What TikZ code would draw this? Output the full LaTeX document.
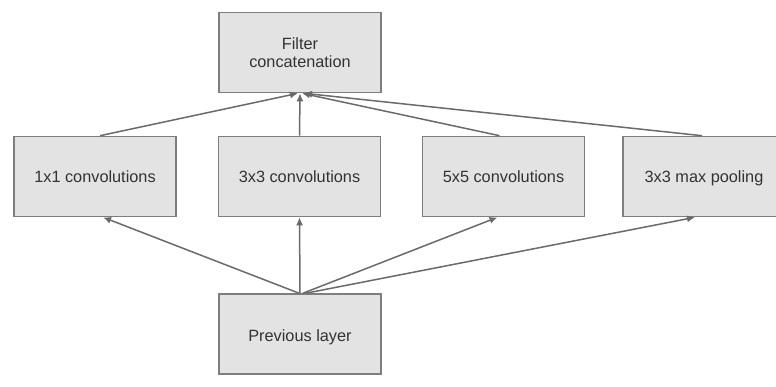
\documentclass[tikz,border=0pt]{standalone}
\usepackage{fontspec}
\setmainfont{Liberation Sans}
\usetikzlibrary{arrows.meta}
\definecolor{boxfill}{HTML}{E3E3E3}
\definecolor{boxline}{HTML}{7E7E7E}
\definecolor{linkline}{HTML}{6A6A6A}
\tikzset{
  layerbox/.style={draw=boxline, line width=1.6pt, fill=boxfill,
    minimum width=162pt, minimum height=80pt, inner sep=0pt,
    font=\fontsize{16.3}{18.5}\selectfont, text=black!80, align=center},
  oneline/.style={text height=13pt, text depth=0pt},
  link/.style={draw=linkline, line width=1.5pt,
    -{Latex[length=8pt,width=7pt]}}
}
\begin{document}
\begin{tikzpicture}[x=1pt,y=-1pt]
  \clip (0,0) rectangle (776,387);
  \fill[white] (0,0) rectangle (776,387);

  % layers
  \node[layerbox] (concat) at (300,52.5) {Filter\\concatenation};
  \node[layerbox, oneline] (c1) at (95,176.5) {1x1 convolutions};
  \node[layerbox, oneline] (c3) at (299.5,176.5) {3x3 convolutions};
  \node[layerbox, oneline] (c5) at (503.5,176.5) {5x5 convolutions};
  \node[layerbox, oneline] (mp) at (704,176.5) {3x3 max pooling};
  \node[layerbox, oneline, text height=15pt] (prev) at (300,334) {Previous layer};

  % previous layer feeds every branch
  \draw[link] ([xshift=-1pt]prev.north) -- ([xshift=8pt]c1.south);
  \draw[link] (prev.north) -- (c3.south);
  \draw[link] ([xshift=3pt]prev.north) -- ([xshift=-6pt]c5.south);
  \draw[link] ([xshift=6pt]prev.north) -- ([xshift=-9pt]mp.south);

  % branch outputs are concatenated
  \draw[link] ([xshift=5pt]c1.north) -- ([xshift=-2pt]concat.south);
  \draw[link] (c3.north) -- (concat.south);
  \draw[link] ([xshift=-4pt]c5.north) -- ([xshift=2pt]concat.south);
  \draw[link] ([xshift=-2pt]mp.north) -- ([xshift=4pt]concat.south);
\end{tikzpicture}
\end{document}
